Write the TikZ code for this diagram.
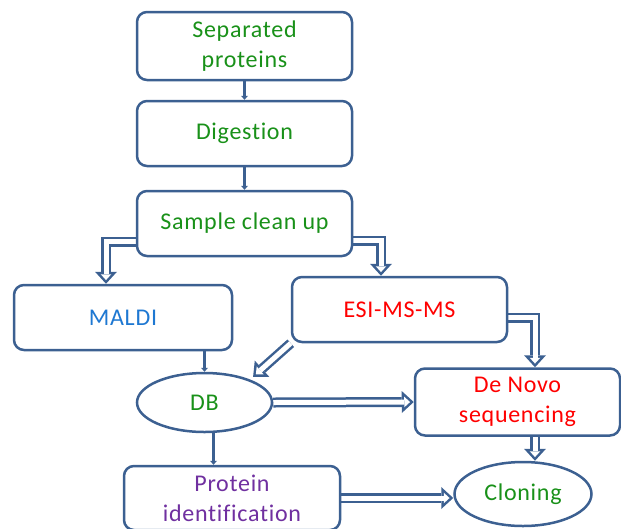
\documentclass[tikz,border=0pt]{standalone}
\usepackage{fontspec}
\setmainfont{Carlito}[LetterSpace=3, Ligatures=NoCommon]
\usetikzlibrary{arrows.meta}
\usetikzlibrary{shapes.geometric}
\usetikzlibrary{backgrounds}

\definecolor{edgeblue}{RGB}{60,96,145}
\definecolor{txtgreen}{RGB}{25,145,25}
\definecolor{txtblue}{RGB}{30,120,210}
\definecolor{txtred}{RGB}{255,0,0}
\definecolor{txtpurple}{RGB}{112,48,160}

\tikzset{
  stage/.style = {draw=edgeblue, line width=2.5pt, rounded corners=10pt, fill=white,
                  minimum width=215pt, minimum height=65pt, align=center,
                  font=\fontsize{24}{30}\selectfont},
  oval/.style  = {ellipse, draw=edgeblue, line width=2.5pt, fill=white, inner sep=0pt,
                  font=\fontsize{24}{30}\selectfont},
  link/.style  = {draw=edgeblue, line width=3pt, -{Triangle[length=4pt,width=7pt,line width=0pt]}},
  % hollow block arrow: blue outline, white channel drawn over it
  hollow/.style = {draw=edgeblue, line width=10pt, line join=miter,
                   -{Triangle[length=12pt,width=22pt,line width=0pt]},
                   postaction={draw=white, line width=5pt, shorten >=3.7pt,
                               -{Triangle[length=5.8pt,width=10.6pt,line width=0pt]}}}
}

\begin{document}
\begin{tikzpicture}[x=1pt, y=-1pt]
    \useasboundingbox (0,0) rectangle (621,528);

    \node[stage, minimum height=68pt, text=txtgreen] (sep) at (244.5,46) {Separated\\proteins};
    \node[stage, text=txtgreen] (dig) at (244.5,133.5) {Digestion};
    \node[stage, text=txtgreen] (clean) at (244.5,223.5) {Sample clean up};
    \node[stage, minimum width=218pt, text=txtblue] (maldi) at (123,317.5) {MALDI};
    \node[stage, text=txtred] (esi) at (399.5,309.5) {ESI-MS-MS};
    \node[oval, minimum width=135pt, minimum height=59pt, text=txtgreen] (db) at (204.5,402.5) {DB};
    \node[stage, minimum width=205pt, minimum height=67pt, text=txtred] (denovo) at (517.5,402) {De Novo\\sequencing};
    \node[stage, minimum width=216pt, minimum height=64pt, text=txtpurple] (protein) at (232,498) {Protein\\identification};
    \node[oval, minimum width=137pt, minimum height=64pt, text=txtgreen] (cloning) at (523,494) {Cloning};

    % vertical rails of the bent arrows
    \coordinate (lrail) at (106,0);
    \coordinate (rrail) at (381,0);
    \coordinate (drail) at (535,0);

    \begin{scope}[on background layer]
        \draw[link] (sep) -- (dig);
        \draw[link] (dig) -- (clean);
        \draw[link] (db.north |- maldi.south) -- (db.north);
        \draw[link] ([xshift=9pt]db.south) -- ([xshift=9pt]db.south |- protein.north);

        \draw[hollow] ([yshift=-18pt]clean.west) -| (lrail |- maldi.north);
        \draw[hollow] ([yshift=-17pt]clean.east) -| (rrail |- esi.north);
        \draw[hollow] (esi.south west) -- ([yshift=4pt]db.north east);
        \draw[hollow] ([yshift=-8pt]esi.east) -| (drail |- denovo.north);
        \draw[hollow] (db.east) -- (denovo.west);
        \draw[hollow] (drail |- denovo.south) -- (drail |- cloning.north);
        \draw[hollow] (protein.east) -- (protein.east -| cloning.west);
    \end{scope}
\end{tikzpicture}
\end{document}
